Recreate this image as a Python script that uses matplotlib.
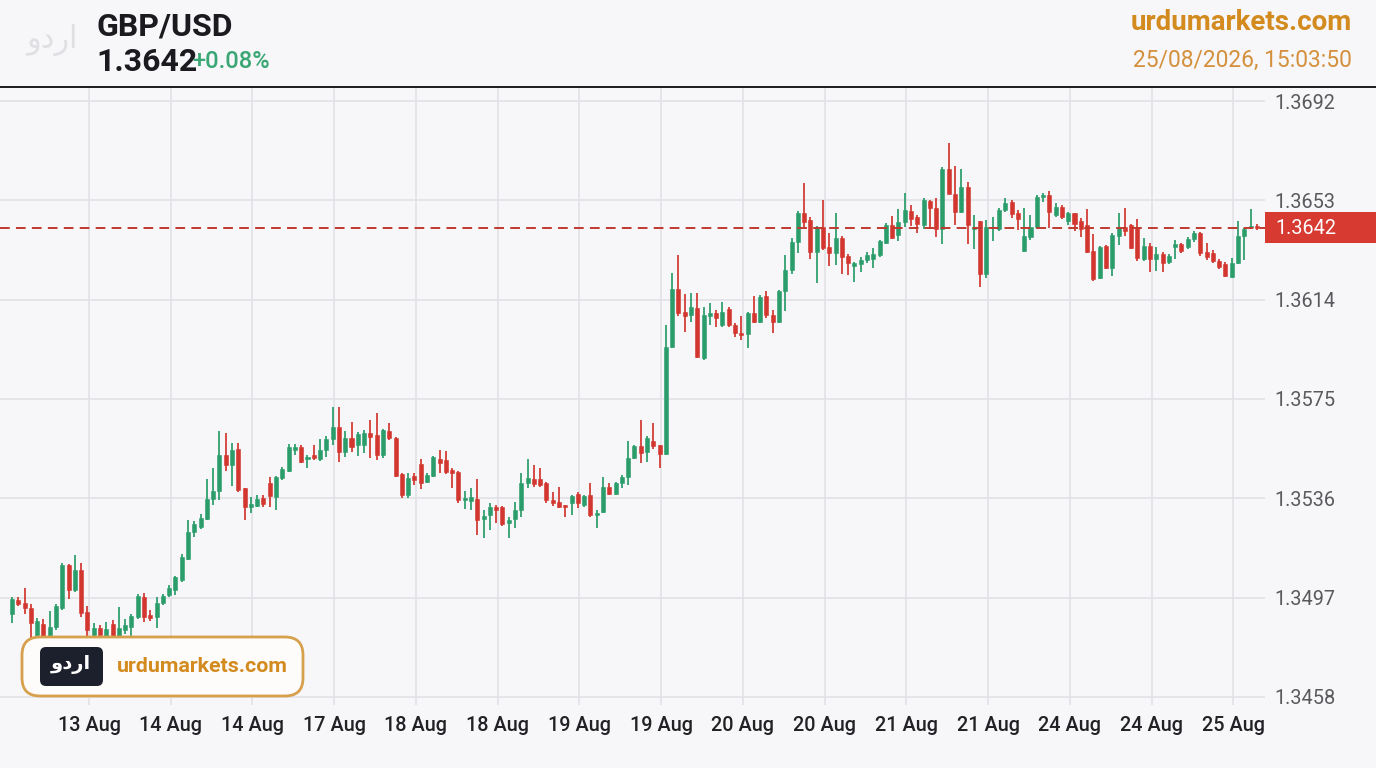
import matplotlib
matplotlib.use('Agg')
import matplotlib.pyplot as plt
from matplotlib.patches import FancyBboxPatch, Rectangle
from matplotlib.lines import Line2D
from matplotlib.transforms import IdentityTransform
import numpy as np

plt.rcParams['font.family'] = ['Roboto', 'DejaVu Sans']

# GBP/USD candles (oldest first)
opens = [
    1.34905, 1.34960, 1.34949, 1.34929, 1.34823, 1.34866, 1.34819, 1.34854, 1.34929, 1.35098,
    1.35000, 1.35078, 1.34913, 1.34823, 1.34850, 1.34819, 1.34866, 1.34815, 1.34843, 1.34854,
    1.34894, 1.34972, 1.34901, 1.34894, 1.34949, 1.34980, 1.35000, 1.35039, 1.35121, 1.35227,
    1.35247, 1.35279, 1.35357, 1.35388, 1.35530, 1.35491, 1.35553, 1.35400, 1.35326, 1.35330,
    1.35361, 1.35420, 1.35365, 1.35439, 1.35467, 1.35549, 1.35561, 1.35514, 1.35530, 1.35514,
    1.35549, 1.35593, 1.35640, 1.35542, 1.35597, 1.35569, 1.35569, 1.35616, 1.35608, 1.35530,
    1.35624, 1.35597, 1.35455, 1.35373, 1.35447, 1.35494, 1.35424, 1.35447, 1.35514, 1.35510,
    1.35471, 1.35463, 1.35353, 1.35349, 1.35357, 1.35279, 1.35294, 1.35326, 1.35326, 1.35263,
    1.35279, 1.35314, 1.35420, 1.35436, 1.35436, 1.35420, 1.35353, 1.35345, 1.35333, 1.35341,
    1.35377, 1.35333, 1.35373, 1.35294, 1.35306, 1.35404, 1.35377, 1.35420, 1.35443, 1.35518,
    1.35565, 1.35542, 1.35585, 1.35569, 1.35534, 1.35954, 1.36182, 1.36091, 1.36080, 1.36107,
    1.35911, 1.36076, 1.36087, 1.36040, 1.36103, 1.36040, 1.36009, 1.36005, 1.36087, 1.36052,
    1.36154, 1.36080, 1.36052, 1.36174, 1.36256, 1.36366, 1.36480, 1.36453, 1.36327, 1.36425,
    1.36347, 1.36323, 1.36382, 1.36311, 1.36272, 1.36280, 1.36296, 1.36300, 1.36315, 1.36362,
    1.36433, 1.36394, 1.36445, 1.36488, 1.36464, 1.36433, 1.36527, 1.36500, 1.36417, 1.36653,
    1.36555, 1.36484, 1.36582, 1.36417, 1.36449, 1.36241, 1.36421, 1.36417, 1.36492, 1.36523,
    1.36480, 1.36331, 1.36386, 1.36425, 1.36543, 1.36551, 1.36472, 1.36504, 1.36449, 1.36480,
    1.36449, 1.36433, 1.36331, 1.36225, 1.36351, 1.36264, 1.36390, 1.36425, 1.36433, 1.36421,
    1.36300, 1.36351, 1.36300, 1.36319, 1.36288, 1.36347, 1.36358, 1.36347, 1.36378, 1.36402,
    1.36327, 1.36323, 1.36292, 1.36280, 1.36229, 1.36284, 1.36390, 1.36425, 1.36429,
]
highs = [
    1.34972, 1.34972, 1.35008, 1.34945, 1.34890, 1.34886, 1.34917, 1.34945, 1.35106, 1.35102,
    1.35137, 1.35106, 1.34937, 1.34870, 1.34862, 1.34874, 1.34882, 1.34933, 1.34886, 1.34905,
    1.34984, 1.34988, 1.34921, 1.34972, 1.34984, 1.35019, 1.35055, 1.35141, 1.35275, 1.35271,
    1.35298, 1.35436, 1.35479, 1.35624, 1.35616, 1.35577, 1.35577, 1.35400, 1.35365, 1.35373,
    1.35373, 1.35443, 1.35447, 1.35483, 1.35573, 1.35573, 1.35569, 1.35530, 1.35569, 1.35593,
    1.35604, 1.35718, 1.35718, 1.35624, 1.35659, 1.35620, 1.35628, 1.35667, 1.35695, 1.35632,
    1.35655, 1.35600, 1.35459, 1.35459, 1.35459, 1.35514, 1.35459, 1.35526, 1.35549, 1.35546,
    1.35479, 1.35467, 1.35388, 1.35400, 1.35436, 1.35314, 1.35341, 1.35333, 1.35330, 1.35286,
    1.35345, 1.35459, 1.35514, 1.35491, 1.35479, 1.35424, 1.35385, 1.35404, 1.35333, 1.35373,
    1.35385, 1.35373, 1.35420, 1.35314, 1.35443, 1.35420, 1.35424, 1.35451, 1.35585, 1.35569,
    1.35667, 1.35604, 1.35655, 1.35569, 1.36040, 1.36245, 1.36315, 1.36162, 1.36166, 1.36166,
    1.36111, 1.36127, 1.36099, 1.36131, 1.36111, 1.36048, 1.36076, 1.36091, 1.36154, 1.36158,
    1.36174, 1.36099, 1.36178, 1.36315, 1.36382, 1.36488, 1.36598, 1.36464, 1.36429, 1.36531,
    1.36402, 1.36480, 1.36390, 1.36319, 1.36288, 1.36307, 1.36327, 1.36343, 1.36374, 1.36441,
    1.36468, 1.36496, 1.36559, 1.36512, 1.36472, 1.36539, 1.36531, 1.36539, 1.36661, 1.36755,
    1.36665, 1.36653, 1.36602, 1.36472, 1.36449, 1.36453, 1.36464, 1.36500, 1.36539, 1.36531,
    1.36492, 1.36500, 1.36472, 1.36551, 1.36559, 1.36567, 1.36519, 1.36512, 1.36484, 1.36480,
    1.36461, 1.36496, 1.36398, 1.36351, 1.36354, 1.36402, 1.36480, 1.36500, 1.36437, 1.36457,
    1.36382, 1.36362, 1.36347, 1.36327, 1.36319, 1.36374, 1.36362, 1.36386, 1.36409, 1.36406,
    1.36362, 1.36335, 1.36300, 1.36288, 1.36303, 1.36449, 1.36421, 1.36496, 1.36437,
]
lows = [
    1.34870, 1.34937, 1.34905, 1.34811, 1.34803, 1.34803, 1.34803, 1.34843, 1.34921, 1.34964,
    1.34992, 1.34894, 1.34819, 1.34803, 1.34803, 1.34803, 1.34803, 1.34795, 1.34827, 1.34819,
    1.34886, 1.34874, 1.34878, 1.34850, 1.34941, 1.34972, 1.34980, 1.35031, 1.35117, 1.35208,
    1.35239, 1.35275, 1.35333, 1.35353, 1.35467, 1.35408, 1.35385, 1.35275, 1.35302, 1.35326,
    1.35326, 1.35326, 1.35314, 1.35432, 1.35463, 1.35530, 1.35498, 1.35479, 1.35510, 1.35506,
    1.35522, 1.35569, 1.35502, 1.35522, 1.35542, 1.35526, 1.35538, 1.35518, 1.35510, 1.35518,
    1.35589, 1.35443, 1.35361, 1.35361, 1.35412, 1.35396, 1.35420, 1.35443, 1.35459, 1.35455,
    1.35400, 1.35341, 1.35318, 1.35314, 1.35216, 1.35204, 1.35235, 1.35263, 1.35251, 1.35204,
    1.35243, 1.35286, 1.35400, 1.35404, 1.35404, 1.35341, 1.35330, 1.35322, 1.35286, 1.35294,
    1.35322, 1.35326, 1.35286, 1.35243, 1.35302, 1.35373, 1.35373, 1.35400, 1.35412, 1.35514,
    1.35498, 1.35502, 1.35553, 1.35479, 1.35530, 1.35950, 1.36076, 1.36013, 1.36052, 1.35911,
    1.35903, 1.36040, 1.36033, 1.36033, 1.36033, 1.35993, 1.35981, 1.35950, 1.36048, 1.36048,
    1.36068, 1.36009, 1.36048, 1.36095, 1.36241, 1.36323, 1.36425, 1.36300, 1.36205, 1.36335,
    1.36272, 1.36276, 1.36241, 1.36237, 1.36209, 1.36248, 1.36284, 1.36264, 1.36307, 1.36358,
    1.36378, 1.36370, 1.36425, 1.36429, 1.36402, 1.36417, 1.36417, 1.36386, 1.36358, 1.36555,
    1.36433, 1.36480, 1.36358, 1.36339, 1.36190, 1.36225, 1.36370, 1.36409, 1.36484, 1.36461,
    1.36413, 1.36327, 1.36374, 1.36417, 1.36523, 1.36421, 1.36464, 1.36457, 1.36433, 1.36409,
    1.36386, 1.36323, 1.36213, 1.36221, 1.36260, 1.36233, 1.36354, 1.36390, 1.36339, 1.36292,
    1.36292, 1.36248, 1.36252, 1.36248, 1.36280, 1.36300, 1.36323, 1.36339, 1.36366, 1.36311,
    1.36296, 1.36284, 1.36260, 1.36229, 1.36225, 1.36280, 1.36296, 1.36417, 1.36413,
]
closes = [
    1.34964, 1.34945, 1.34929, 1.34870, 1.34878, 1.34819, 1.34854, 1.34937, 1.35098, 1.35000,
    1.35078, 1.34909, 1.34843, 1.34850, 1.34823, 1.34847, 1.34819, 1.34850, 1.34862, 1.34898,
    1.34976, 1.34894, 1.34890, 1.34949, 1.34976, 1.35008, 1.35051, 1.35129, 1.35227, 1.35259,
    1.35282, 1.35357, 1.35388, 1.35530, 1.35491, 1.35549, 1.35392, 1.35326, 1.35337, 1.35357,
    1.35337, 1.35369, 1.35443, 1.35475, 1.35561, 1.35561, 1.35502, 1.35522, 1.35518, 1.35549,
    1.35593, 1.35640, 1.35542, 1.35597, 1.35561, 1.35612, 1.35616, 1.35600, 1.35530, 1.35628,
    1.35597, 1.35447, 1.35373, 1.35439, 1.35432, 1.35420, 1.35451, 1.35522, 1.35498, 1.35463,
    1.35459, 1.35353, 1.35361, 1.35365, 1.35275, 1.35290, 1.35326, 1.35314, 1.35259, 1.35275,
    1.35314, 1.35420, 1.35439, 1.35416, 1.35412, 1.35353, 1.35341, 1.35326, 1.35326, 1.35369,
    1.35341, 1.35369, 1.35294, 1.35302, 1.35404, 1.35377, 1.35420, 1.35443, 1.35518, 1.35565,
    1.35538, 1.35597, 1.35565, 1.35534, 1.35954, 1.36182, 1.36087, 1.36076, 1.36111, 1.35915,
    1.36080, 1.36087, 1.36068, 1.36091, 1.36040, 1.36009, 1.36001, 1.36087, 1.36052, 1.36150,
    1.36080, 1.36052, 1.36174, 1.36256, 1.36366, 1.36480, 1.36445, 1.36327, 1.36425, 1.36343,
    1.36323, 1.36382, 1.36307, 1.36284, 1.36284, 1.36296, 1.36315, 1.36319, 1.36370, 1.36433,
    1.36382, 1.36445, 1.36492, 1.36457, 1.36437, 1.36531, 1.36500, 1.36417, 1.36653, 1.36555,
    1.36484, 1.36582, 1.36433, 1.36425, 1.36241, 1.36425, 1.36425, 1.36492, 1.36519, 1.36476,
    1.36457, 1.36390, 1.36425, 1.36543, 1.36551, 1.36484, 1.36504, 1.36464, 1.36480, 1.36437,
    1.36417, 1.36327, 1.36221, 1.36347, 1.36264, 1.36394, 1.36425, 1.36409, 1.36343, 1.36303,
    1.36351, 1.36300, 1.36319, 1.36284, 1.36311, 1.36358, 1.36331, 1.36378, 1.36402, 1.36323,
    1.36307, 1.36292, 1.36268, 1.36233, 1.36284, 1.36390, 1.36417, 1.36429, 1.36421,
]

date_labels = ["13 Aug", "14 Aug", "14 Aug", "17 Aug", "18 Aug", "18 Aug", "19 Aug",
               "19 Aug", "20 Aug", "20 Aug", "21 Aug", "21 Aug", "24 Aug", "24 Aug",
               "25 Aug"]
price_ticks = [1.3458, 1.3497, 1.3536, 1.3575, 1.3614, 1.3653, 1.3692]
last_price = 1.3642
pair_name = "GBP/USD"
change_text = "+0.08%"
site_name = "urdumarkets.com"
stamp = "25/08/2026, 15:03:50"

BG = '#f7f7f9'
GREEN = '#2a9d6a'
RED = '#d2362e'
GRID = '#e2e2e6'
ORANGE = '#d38a1f'

W, H = 1376, 768
fig = plt.figure(figsize=(W / 100, H / 100), dpi=100)
fig.patch.set_facecolor(BG)

# plot area in pixel terms: x 0..1265, y 87..705
ax = fig.add_axes([0, 1 - 705 / H, 1265 / W, (705 - 87) / H])
ax.set_facecolor(BG)

o = np.array(opens)
hi = np.array(highs)
lo = np.array(lows)
c = np.array(closes)
x = np.arange(len(c))
up = c >= o
cols = np.where(up, GREEN, RED)

ax.vlines(x, lo, hi, colors=cols, linewidth=1.25, zorder=3)
body_bottom = np.minimum(o, c)
body_height = np.maximum(np.abs(c - o), 0.00005)
ax.bar(x, body_height, bottom=body_bottom, width=0.64, color=cols,
       edgecolor=cols, linewidth=0.4, zorder=4)

ax.axhline(last_price, color='#c0392f', linestyle=(0, (5, 3.2)), linewidth=1.4,
           zorder=5)

ax.set_xlim(-1.91, 199.3)
ax.set_ylim(1.34548, 1.36975)

tick_pos = 12.25 + 13 * np.arange(len(date_labels))
ax.set_xticks(tick_pos)
ax.set_xticklabels(date_labels)
ax.set_yticks(price_ticks)
ax.set_yticklabels([f"{p:.4f}" for p in price_ticks])
ax.yaxis.tick_right()
ax.tick_params(axis='y', length=0, pad=7, labelsize=14.3, labelcolor='#5a5a5e')
ax.tick_params(axis='x', length=0, pad=8, labelsize=14.3, labelcolor='#222226')
for lab in ax.get_xticklabels():
    lab.set_fontweight('medium')
ax.grid(True, color=GRID, linewidth=1.2, zorder=0)
ax.set_axisbelow(True)
for s in ax.spines.values():
    s.set_visible(False)

px = IdentityTransform()

# header rule
fig.add_artist(Line2D([0, W], [H - 87, H - 87], color='#1a1a1a', linewidth=1.4,
                      transform=px))

# last price tag on the axis
fig.add_artist(Rectangle((1265, H - 243), W - 1265, 31, facecolor='#d63a31',
                         edgecolor='none', transform=px, zorder=6))
fig.text(1275 / W, 1 - 228 / H, f"{last_price:.4f}", color='white', fontsize=14.3,
         ha='left', va='center', zorder=7)

# header texts
fig.text(97 / W, 1 - 26 / H, pair_name, fontsize=23, fontweight='bold',
         color='#1b1b1f', ha='left', va='center')
fig.text(96 / W, 1 - 62 / H, f"{last_price:.4f}", fontsize=23, fontweight='bold',
         color='#1b1b1f', ha='left', va='center')
fig.text(192 / W, 1 - 62 / H, change_text, fontsize=17, fontweight='medium',
         color='#3aa674', ha='left', va='center')
fig.text(1352 / W, 1 - 23 / H, site_name, fontsize=20, fontweight='bold',
         color=ORANGE, ha='right', va='center')
fig.text(1352 / W, 1 - 60 / H, stamp, fontsize=16.4, color='#d4903c',
         ha='right', va='center')

# faint watermark logo, top left (letters do not join, so visual order works)
fig.text(52 / W, 1 - 40 / H, "اردو"[::-1], fontsize=22, color='#e0e0e4',
         ha='center', va='center', family=['DejaVu Sans'])

# bottom-left badge
fig.add_artist(FancyBboxPatch((22, H - 696), 281, 59,
                              boxstyle="round,pad=0,rounding_size=18",
                              facecolor='#fdfcfa', edgecolor='#d6a04c',
                              linewidth=2, transform=px, zorder=8))
fig.add_artist(FancyBboxPatch((40, H - 686), 63, 39,
                              boxstyle="round,pad=0,rounding_size=6",
                              facecolor='#1b202c', edgecolor='none',
                              transform=px, zorder=9))
fig.text(71 / W, 1 - 665 / H, "اردو"[::-1], fontsize=14, fontweight='bold',
         color='white', ha='center', va='center', family=['DejaVu Sans'],
         zorder=10)
fig.text(117 / W, 1 - 667 / H, site_name, fontsize=15.4, fontweight='bold',
         color=ORANGE, ha='left', va='center', zorder=10)

fig.savefig("out.png", dpi=100, facecolor=BG)
plt.close(fig)
